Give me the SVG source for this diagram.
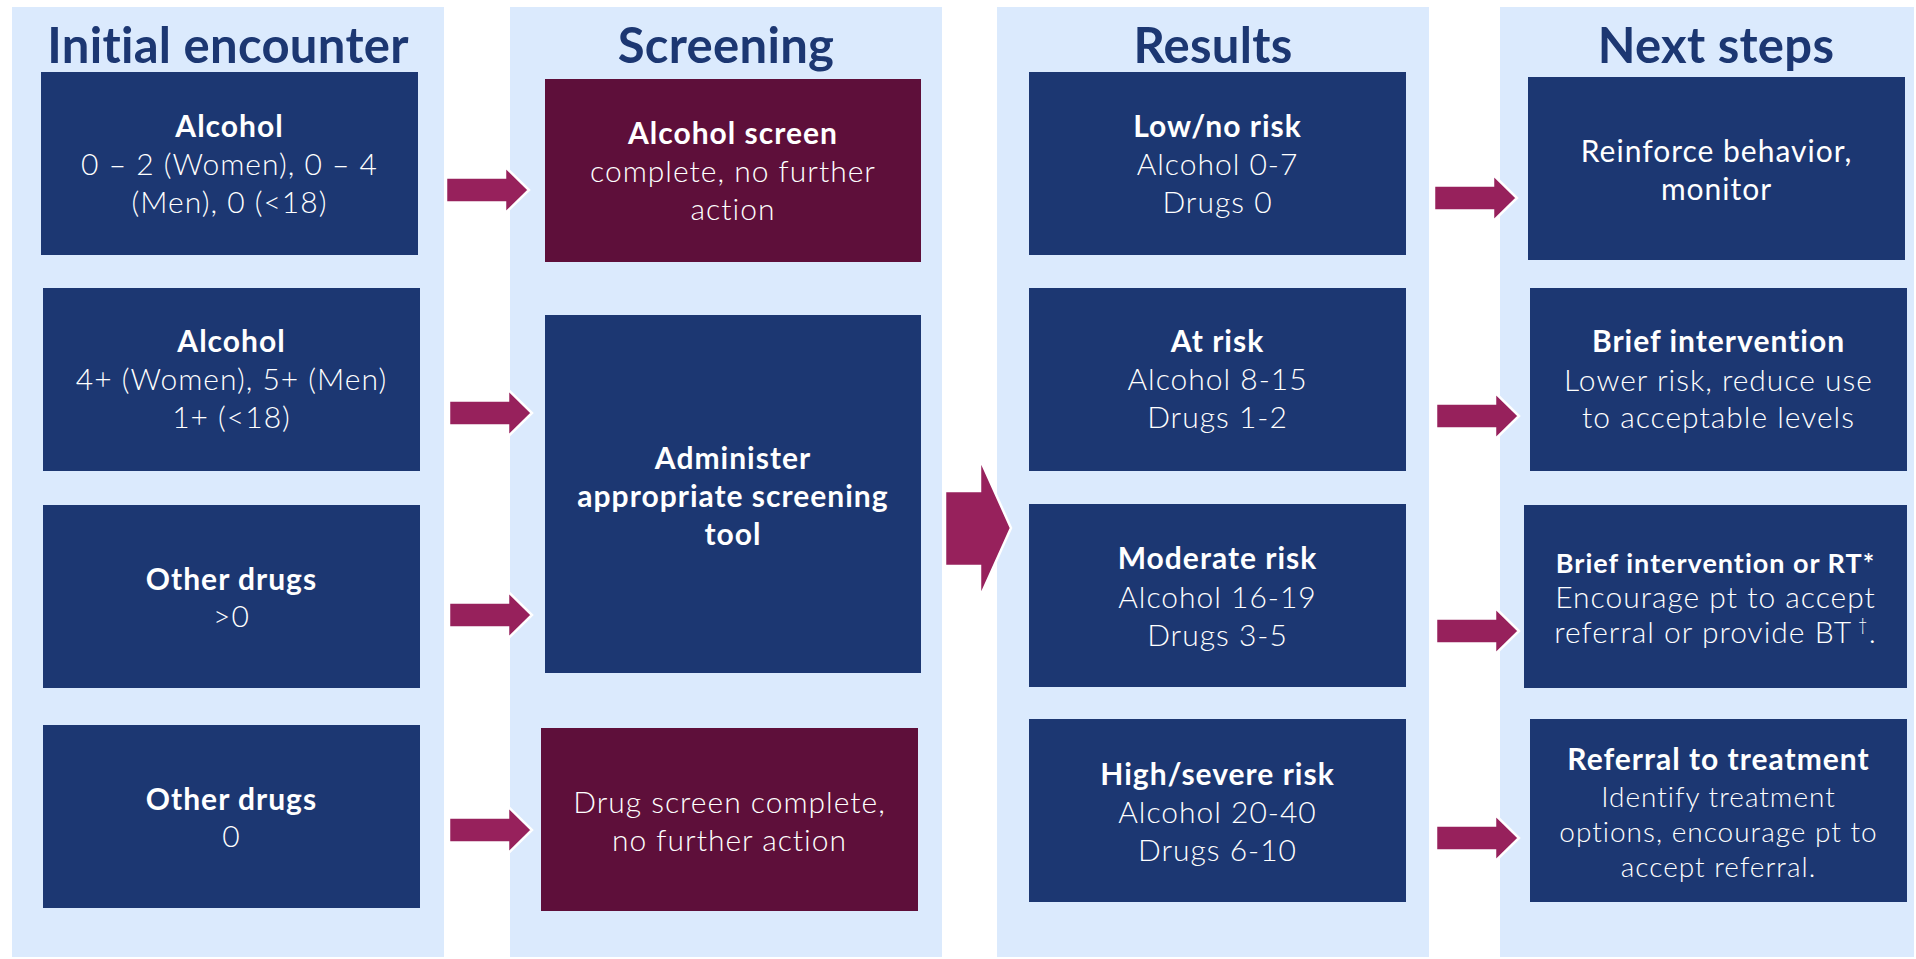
<svg xmlns="http://www.w3.org/2000/svg" xmlns:xlink="http://www.w3.org/1999/xlink" width="1916" height="959" viewBox="0 0 1916 959">
<defs>
<style>
.panel{fill:#dbeafd}
.navy{fill:#1c3772}
.maroon{fill:#5e0f3a}
.title{font-family:Lato,"Liberation Sans",sans-serif;font-weight:700;font-size:49px;letter-spacing:0.3px;fill:#1c3772;text-anchor:middle}
.t{font-family:Lato,"Liberation Sans",sans-serif;font-size:30px;letter-spacing:1px;fill:#ffffff;text-anchor:middle;font-weight:300}
.b{font-weight:700}
.r{font-weight:400}
.s{font-size:28px}
.arrow{fill:#97215c;stroke:#ffffff;stroke-width:2.5}
</style>
<path id="arr" d="M-83,-12.5 H-24 V-23.5 L0,0 L-24,23.5 V12.5 H-83 Z"/>
</defs>
<rect width="1916" height="959" fill="#ffffff"/>

<g id="panels">
<rect class="panel" x="12" y="7" width="432" height="950"/>
<rect class="panel" x="510" y="7" width="432" height="950"/>
<rect class="panel" x="997" y="7" width="432" height="950"/>
<rect class="panel" x="1500" y="7" width="414" height="950"/>
<text class="title" x="228" y="63">Initial encounter</text>
<text class="title" x="726" y="63">Screening</text>
<text class="title" x="1213" y="63">Results</text>
<text class="title" x="1716" y="63">Next steps</text>
</g>

<g id="ie1">
<rect class="navy" x="41" y="72" width="377" height="183"/>
<text class="t" x="229.5" y="137"><tspan class="b">Alcohol</tspan><tspan x="229.5" y="175">0 – 2 (Women), 0 – 4</tspan><tspan x="229.5" y="213">(Men), 0 (&lt;18)</tspan></text>
</g>
<g id="ie2">
<rect class="navy" x="43" y="288" width="377" height="183"/>
<text class="t" x="231.5" y="352"><tspan class="b">Alcohol</tspan><tspan x="231.5" y="390">4+ (Women), 5+ (Men)</tspan><tspan x="231.5" y="428">1+ (&lt;18)</tspan></text>
</g>
<g id="ie3">
<rect class="navy" x="43" y="505" width="377" height="183"/>
<text class="t" x="231.5" y="590"><tspan class="b">Other drugs</tspan><tspan x="231.5" y="627">&gt;0</tspan></text>
</g>
<g id="ie4">
<rect class="navy" x="43" y="725" width="377" height="183"/>
<text class="t" x="231.5" y="810"><tspan class="b">Other drugs</tspan><tspan x="231.5" y="847">0</tspan></text>
</g>

<g id="sc1">
<rect class="maroon" x="545" y="79" width="376" height="183"/>
<text class="t" x="733" y="144"><tspan class="b">Alcohol screen</tspan><tspan x="733" y="182">complete, no further</tspan><tspan x="733" y="220">action</tspan></text>
</g>
<g id="sc2">
<rect class="navy" x="545" y="315" width="376" height="358"/>
<text class="t b" x="733" y="469">Administer<tspan x="733" y="507">appropriate screening</tspan><tspan x="733" y="545">tool</tspan></text>
</g>
<g id="sc3">
<rect class="maroon" x="541" y="728" width="377" height="183"/>
<text class="t" x="729.5" y="813">Drug screen complete,<tspan x="729.5" y="851">no further action</tspan></text>
</g>

<g id="rs1">
<rect class="navy" x="1029" y="72" width="377" height="183"/>
<text class="t" x="1217.5" y="137"><tspan class="b">Low/no risk</tspan><tspan x="1217.5" y="175">Alcohol 0-7</tspan><tspan x="1217.5" y="213">Drugs 0</tspan></text>
</g>
<g id="rs2">
<rect class="navy" x="1029" y="288" width="377" height="183"/>
<text class="t" x="1217.5" y="352"><tspan class="b">At risk</tspan><tspan x="1217.5" y="390">Alcohol 8-15</tspan><tspan x="1217.5" y="428">Drugs 1-2</tspan></text>
</g>
<g id="rs3">
<rect class="navy" x="1029" y="504" width="377" height="183"/>
<text class="t" x="1217.5" y="569"><tspan class="b">Moderate risk</tspan><tspan x="1217.5" y="608">Alcohol 16-19</tspan><tspan x="1217.5" y="646">Drugs 3-5</tspan></text>
</g>
<g id="rs4">
<rect class="navy" x="1029" y="719" width="377" height="183"/>
<text class="t" x="1217.5" y="785"><tspan class="b">High/severe risk</tspan><tspan x="1217.5" y="823">Alcohol 20-40</tspan><tspan x="1217.5" y="861">Drugs 6-10</tspan></text>
</g>

<g id="ns1">
<rect class="navy" x="1528" y="77" width="377" height="183"/>
<text class="t r" x="1716.5" y="162">Reinforce behavior,<tspan x="1716.5" y="200">monitor</tspan></text>
</g>
<g id="ns2">
<rect class="navy" x="1530" y="288" width="377" height="183"/>
<text class="t" x="1718.5" y="352"><tspan class="b">Brief intervention</tspan><tspan x="1718.5" y="391">Lower risk, reduce use</tspan><tspan x="1718.5" y="428">to acceptable levels</tspan></text>
</g>
<g id="ns3">
<rect class="navy" x="1524" y="505" width="383" height="183"/>
<text class="t" x="1715.5" y="573"><tspan class="b" font-size="27">Brief intervention or RT*</tspan><tspan x="1715.5" y="608">Encourage pt to accept</tspan><tspan x="1715.5" y="643">referral or provide BT</tspan><tspan font-size="17" dy="-12"> †</tspan><tspan dy="12">.</tspan></text>
</g>
<g id="ns4">
<rect class="navy" x="1530" y="719" width="377" height="183"/>
<text class="t" x="1718.5" y="770"><tspan class="b">Referral to treatment</tspan><tspan class="s" x="1718.5" y="807">Identify treatment</tspan><tspan class="s" x="1718.5" y="842">options, encourage pt to</tspan><tspan class="s" x="1718.5" y="877">accept referral.</tspan></text>
</g>

<g id="connectors">
<use xlink:href="#arr" class="arrow" x="529" y="190"/>
<use xlink:href="#arr" class="arrow" x="532" y="413"/>
<use xlink:href="#arr" class="arrow" x="532" y="615"/>
<use xlink:href="#arr" class="arrow" x="532" y="830"/>
<path class="arrow" d="M945,491 H980 V459 L1011,528 L980,597 V566 H945 Z"/>
<use xlink:href="#arr" class="arrow" x="1517" y="198"/>
<use xlink:href="#arr" class="arrow" x="1519" y="416"/>
<use xlink:href="#arr" class="arrow" x="1519" y="631"/>
<use xlink:href="#arr" class="arrow" x="1519" y="838"/>
</g>
</svg>
